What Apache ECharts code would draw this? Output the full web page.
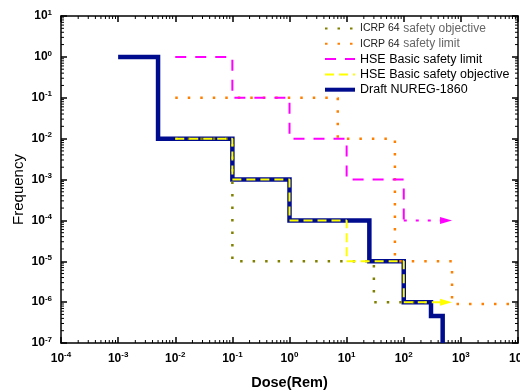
<!DOCTYPE html>
<html>
<head>
<meta charset="utf-8">
<script src="https://cdn.jsdelivr.net/npm/echarts@6/dist/echarts.min.js"></script>
<style>
  html, body { margin: 0; padding: 0; background: #fff; }
  #chart { width: 520px; height: 390px; }
</style>
</head>
<body>
<div id="chart"></div>
<script>
// step points [dose, frequency]; step 'end' draws horizontal first then drops
const draftNureg = [[1e-3, 1], [5e-3, 1e-2], [0.1, 1e-3], [1, 1e-4], [25, 1e-5], [100, 1e-6], [300, 4.6e-7], [480, 1e-7]]
const hseObjective = [[1e-2, 1e-2], [0.1, 1e-3], [1, 1e-4], [10, 1e-5], [100, 1e-6], [550, 1e-6]]
const hseLimit = [[1e-2, 1], [0.1, 0.1], [1, 1e-2], [10, 1e-3], [100, 1e-4]]
const hseLimitTail = [[100, 1e-4], [550, 1e-4]]
const icrpLimit = [[1e-2, 0.1], [7, 1e-2], [70, 1e-5], [700, 9e-7], [1e4, 9e-7]]
const icrpObjective = [[1e-2, 1e-2], [0.1, 1e-5], [30, 1e-6], [300, 1e-6]]

const xMin = 1e-4, xMax = 1e4
const yMin = 1e-7, yMax = 1e1

// minor ticks 2..9 in every decade
function minorTicks(lo, hi) {
  const out = []
  for (let e = Math.round(Math.log10(lo)); e < Math.round(Math.log10(hi)); e++) {
    for (let k = 2; k <= 9; k++) out.push(k * Math.pow(10, e))
  }
  return out
}
const xMinor = minorTicks(xMin, xMax)
const yMinor = minorTicks(yMin, yMax)

const font = 'Liberation Sans, Arial, sans-serif'

function powLabel(v) {
  return '{a|10}{b|' + Math.round(Math.log10(v)) + '}'
}
const labelRich = {
  a: { fontFamily: font, fontSize: 12, fontWeight: 'bold', color: '#000' },
  b: { fontFamily: font, fontSize: 8, fontWeight: 'bold', color: '#000', padding: [0, 0, 7, 0] }
}

function arrowEnd(data, color) {
  return data.map((p, i) => i === data.length - 1
    ? { value: p, symbol: 'triangle', symbolRotate: -90, symbolSize: [7, 12], itemStyle: { color: color } }
    : { value: p })
}

const chart = echarts.init(document.getElementById('chart'))

const axisLine = { show: true, lineStyle: { color: '#000', width: 1.5 } }
const axisTick = { show: true, inside: true, length: 6, lineStyle: { color: '#000', width: 1.5 } }

const option = {
  animation: false,
  grid: { left: 61, right: 2, top: 16, bottom: 47, outerBoundsMode: 'none', containLabel: false },
  legend: {
    orient: 'vertical',
    left: 318,
    top: 17,
    itemWidth: 30,
    itemHeight: 10,
    itemGap: 2.3,
    itemStyle: { color: 'rgba(0,0,0,0)', borderColor: 'rgba(0,0,0,0)', borderWidth: 0 },
    textStyle: { fontFamily: font, fontSize: 12.5, color: '#000',
      rich: {
        k: { fontFamily: font, fontSize: 10.5, color: '#222' },
        g: { fontFamily: font, fontSize: 12, color: '#666' }
      }
    },
    formatter: name => name.startsWith('ICRP') ? '{k|ICRP 64} {g|' + name.slice(8) + '}' : name,
    data: [
      { name: 'ICRP 64 safety objective' },
      { name: 'ICRP 64 safety limit' },
      { name: 'HSE Basic safety limit' },
      { name: 'HSE Basic safety objective' },
      { name: 'Draft NUREG-1860', lineStyle: { width: 4 } }
    ]
  },
  xAxis: [{
    type: 'log', logBase: 10, min: xMin, max: xMax, interval: 1,
    position: 'bottom',
    axisLine: axisLine, axisTick: axisTick, splitLine: { show: false },
    axisLabel: { formatter: powLabel, rich: labelRich, margin: 8 },
    name: 'Dose(Rem)', nameLocation: 'middle', nameGap: 32, nameMoveOverlap: false,
    nameTextStyle: { fontFamily: font, fontSize: 14.5, fontWeight: 'bold', color: '#000' }
  }, {
    type: 'log', logBase: 10, min: xMin, max: xMax, interval: 1,
    position: 'top',
    axisLine: axisLine, axisTick: axisTick, splitLine: { show: false },
    axisLabel: { show: false }
  }],
  yAxis: [{
    type: 'log', logBase: 10, min: yMin, max: yMax, interval: 1,
    position: 'left',
    axisLine: axisLine, axisTick: axisTick, splitLine: { show: false },
    axisLabel: { formatter: powLabel, rich: labelRich, margin: 9 },
    name: 'Frequency', nameLocation: 'middle', nameGap: 35, nameMoveOverlap: false,
    nameTextStyle: { fontFamily: font, fontSize: 15, color: '#000', padding: [0, 20, 0, 0] }
  }, {
    type: 'log', logBase: 10, min: yMin, max: yMax, interval: 1,
    position: 'right',
    axisLine: axisLine, axisTick: axisTick, splitLine: { show: false },
    axisLabel: { show: false }
  }],
  series: [
    {
      type: 'custom', silent: true, z: 1,
      data: xMinor.map(v => [v, yMin]),
      renderItem: (params, api) => {
        const b = api.coord([api.value(0), yMin])
        const t = api.coord([api.value(0), yMax])
        const st = { stroke: '#000', lineWidth: 1 }
        return { type: 'group', children: [
          { type: 'line', shape: { x1: b[0], y1: b[1], x2: b[0], y2: b[1] - 3 }, style: st },
          { type: 'line', shape: { x1: t[0], y1: t[1], x2: t[0], y2: t[1] + 3 }, style: st }
        ] }
      }
    },
    {
      type: 'custom', silent: true, z: 1,
      data: yMinor.map(v => [xMin, v]),
      renderItem: (params, api) => {
        const l = api.coord([xMin, api.value(1)])
        const r = api.coord([xMax, api.value(1)])
        const st = { stroke: '#000', lineWidth: 1 }
        return { type: 'group', children: [
          { type: 'line', shape: { x1: l[0], y1: l[1], x2: l[0] + 3, y2: l[1] }, style: st },
          { type: 'line', shape: { x1: r[0], y1: r[1], x2: r[0] - 3, y2: r[1] }, style: st }
        ] }
      }
    },
    {
      name: 'Draft NUREG-1860', type: 'line', step: 'end', data: draftNureg,
      symbol: 'none', z: 2,
      itemStyle: { color: '#000c8e' },
      lineStyle: { color: '#000c8e', width: 4.5, cap: 'butt', join: 'miter' }
    },
    {
      name: 'ICRP 64 safety limit', type: 'line', step: 'end', data: icrpLimit,
      symbol: 'none', z: 3,
      itemStyle: { color: '#ff8000' },
      lineStyle: { color: '#ff8000', width: 2.5, type: [2.5, 10], cap: 'butt' }
    },
    {
      name: 'ICRP 64 safety objective', type: 'line', step: 'end', data: icrpObjective,
      symbol: 'none', z: 3,
      itemStyle: { color: '#808000' },
      lineStyle: { color: '#808000', width: 2.5, type: [2.5, 10], cap: 'butt' }
    },
    {
      name: 'HSE Basic safety limit', type: 'line', step: 'end', data: hseLimit,
      symbol: 'none', z: 3,
      itemStyle: { color: '#ff00ff' },
      lineStyle: { color: '#ff00ff', width: 2, type: [11, 9] }
    },
    {
      name: 'HSE limit tail', type: 'line', data: arrowEnd(hseLimitTail, '#ff00ff'),
      symbol: 'none', z: 3,
      lineStyle: { color: '#ff00ff', width: 2, type: [3, 9] }
    },
    {
      name: 'HSE Basic safety objective', type: 'line', step: 'end', data: arrowEnd(hseObjective, '#ffff00'),
      symbol: 'none', z: 4,
      itemStyle: { color: '#ffff00' },
      lineStyle: { color: '#ffff00', width: 2, type: [9, 5] }
    }
  ]
}

chart.setOption(option)
</script>
</body>
</html>
